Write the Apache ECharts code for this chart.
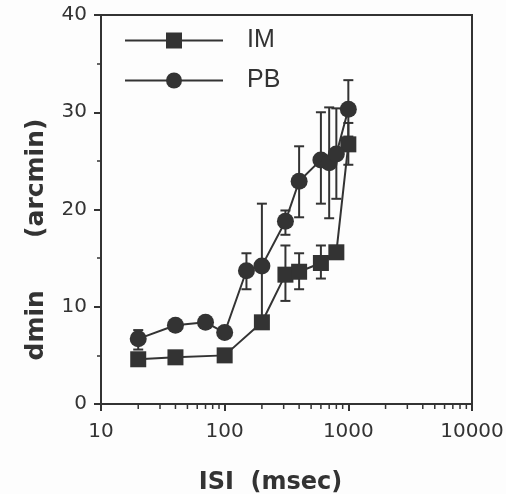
<!DOCTYPE html>
<html>
<head>
<meta charset="utf-8">
<script src="https://cdn.jsdelivr.net/npm/echarts@6/dist/echarts.min.js"></script>
<style>
html,body{margin:0;padding:0;background:#fdfdfd;}
#c{width:506px;height:494px;}
</style>
</head>
<body>
<div id="c"></div>
<script>
// ---- data ----
var seriesNames = ['IM', 'PB'];
var imX = [20, 40, 100, 200, 310, 400, 600, 800, 1000];
var imY = [4.6, 4.8, 5.0, 8.4, 13.3, 13.6, 14.5, 15.6, 26.7];
var pbX = [20, 40, 70, 100, 150, 200, 310, 400, 600, 700, 800, 1000];
var pbY = [6.7, 8.1, 8.4, 7.35, 13.7, 14.2, 18.8, 22.9, 25.1, 24.8, 25.7, 30.3];
// error bars: [x, low, high]
var imErrX = [310, 400, 600, 1000];
var imErrLow = [10.6, 11.8, 12.9, 24.6];
var imErrHigh = [16.3, 15.5, 16.3, 28.9];
var pbErrX = [20, 150, 200, 310, 400, 600, 700, 800, 1000];
var pbErrLow = [5.6, 11.8, 8.0, 17.4, 19.2, 20.6, 19.1, 21.1, 27.5];
var pbErrHigh = [7.6, 15.5, 20.6, 19.9, 26.5, 30.0, 30.5, 30.4, 33.3];
var xMinorTicks = [20, 30, 40, 50, 60, 70, 80, 90, 200, 300, 400, 500, 600, 700, 800, 900,
                   2000, 3000, 4000, 5000, 6000, 7000, 8000, 9000];
var xTickLabels = [10, 100, 1000, 10000];
var yTicks = [0, 10, 20, 30, 40];

var INK = '#333';

function zip2(a, b) { return a.map(function (v, i) { return [v, b[i]]; }); }
function zip3(a, b, c) { return a.map(function (v, i) { return [v, b[i], c[i]]; }); }

function errRender(params, api) {
  var x = api.value(0), lo = api.value(1), hi = api.value(2);
  var p1 = api.coord([x, lo]), p2 = api.coord([x, hi]);
  var cap = 5;
  var st = { stroke: INK, lineWidth: 2 };
  return {
    type: 'group',
    children: [
      { type: 'line', shape: { x1: p1[0], y1: p1[1], x2: p2[0], y2: p2[1] }, style: st },
      { type: 'line', shape: { x1: p1[0] - cap, y1: p1[1], x2: p1[0] + cap, y2: p1[1] }, style: st },
      { type: 'line', shape: { x1: p2[0] - cap, y1: p2[1], x2: p2[0] + cap, y2: p2[1] }, style: st }
    ]
  };
}

function minorTickRender(params, api) {
  var p = api.coord([api.value(0), yTicks[0]]);
  return { type: 'line', shape: { x1: p[0], y1: p[1], x2: p[0], y2: p[1] + 5 },
           style: { stroke: INK, lineWidth: 1.5 } };
}

var chart = echarts.init(document.getElementById('c'), null, { renderer: 'canvas' });
chart.setOption({
  backgroundColor: '#fdfdfd',
  animation: false,
  grid: { left: 101, right: 34, top: 15, bottom: 90, outerBoundsMode: 'none', containLabel: false,
          show: true, borderColor: INK, borderWidth: 2, backgroundColor: 'transparent' },
  legend: {
    data: seriesNames,
    orient: 'vertical',
    left: 119, top: 23,
    itemWidth: 98, itemHeight: 20, itemGap: 15,
    lineStyle: { width: 2 },
    textStyle: { fontFamily: 'Liberation Sans', fontSize: 25, color: INK, padding: [0, 0, 0, 19], lineHeight: 24 }
  },
  xAxis: {
    type: 'log', logBase: 10, min: xTickLabels[0], max: xTickLabels[xTickLabels.length - 1],
    name: 'ISI  (msec)', nameLocation: 'middle', nameGap: 67,
    nameTextStyle: { fontFamily: 'DejaVu Sans', fontWeight: 'bold', fontSize: 24, color: INK, padding: [0, 32, 0, 0] },
    axisLine: { lineStyle: { color: INK, width: 2 } },
    axisTick: { length: 7, lineStyle: { color: INK, width: 2 } },
    axisLabel: { margin: 18, fontFamily: 'DejaVu Sans', fontSize: 20, color: INK, formatter: function (v) { return String(v); } },
    splitLine: { show: false }
  },
  yAxis: {
    type: 'value', min: yTicks[0], max: yTicks[yTicks.length - 1], interval: 10,
    name: 'dmin      (arcmin)', nameLocation: 'middle', nameGap: 52,
    nameTextStyle: { fontFamily: 'DejaVu Sans', fontWeight: 'bold', fontSize: 25, color: INK, padding: [0, 60, 0, 0] },
    axisLine: { lineStyle: { color: INK, width: 2 } },
    axisTick: { length: 7, lineStyle: { color: INK, width: 2 } },
    minorTick: { show: true, splitNumber: 2, length: 4, lineStyle: { color: INK, width: 1.5 } },
    axisLabel: { margin: 14, fontFamily: 'DejaVu Sans', fontSize: 20, color: INK },
    splitLine: { show: false }
  },
  series: [
    { type: 'custom', name: 'minorTicks', renderItem: minorTickRender, clip: false, silent: true,
      data: xMinorTicks.map(function (v) { return [v]; }), encode: { x: 0 }, z: 1 },
    { type: 'custom', name: 'imErr', renderItem: errRender, silent: true,
      data: zip3(imErrX, imErrLow, imErrHigh), encode: { x: 0, y: [1, 2] }, z: 2 },
    { type: 'custom', name: 'pbErr', renderItem: errRender, silent: true,
      data: zip3(pbErrX, pbErrLow, pbErrHigh), encode: { x: 0, y: [1, 2] }, z: 2 },
    { type: 'line', name: seriesNames[0], data: zip2(imX, imY), symbol: 'rect', symbolSize: 16,
      itemStyle: { color: INK, borderWidth: 0 }, lineStyle: { color: INK, width: 2 }, z: 3 },
    { type: 'line', name: seriesNames[1], data: zip2(pbX, pbY), symbol: 'circle', symbolSize: 17,
      itemStyle: { color: INK, borderWidth: 0 }, lineStyle: { color: INK, width: 2 }, z: 3 }
  ]
});
</script>
</body>
</html>
